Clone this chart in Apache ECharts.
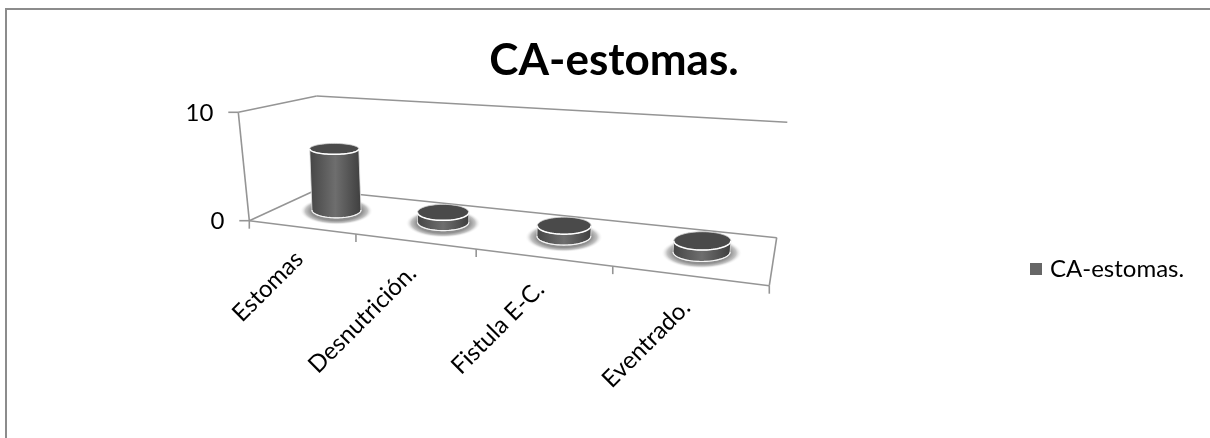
<!DOCTYPE html>
<html><head><meta charset="utf-8">
<style>html,body{margin:0;padding:0;background:#fff}#c{width:1210px;height:438px}</style>
<script src="https://cdn.jsdelivr.net/npm/echarts@6/dist/echarts.min.js"></script>
</head><body><div id="c"></div>
<script>
const seriesName = 'CA-estomas.';
const categories = ['Estomas', 'Desnutrición.', 'Fistula E-C.', 'Eventrado.'];
const values = [6, 1, 1, 1];
const yTickValues = [0, 10];
const yTickLabels = ['0', '10'];

// Perspective box the 2D axes are projected into
const FL=[249.3,220.7],FR=[769.3,285.7],BL=[316,190],BR=[776.7,237.7],
      TFL=[238.3,112.3],TFR=[777.5,153],TBL=[316.7,96],TBR=[787.3,122.3];
const K=0.774, FONT='Lato, "Open Sans", sans-serif', AX='#959595';
const warp=u=>K*u/(1-u+K*u);
const mix=(a,b,t)=>[a[0]+(b[0]-a[0])*t,a[1]+(b[1]-a[1])*t];
function P(u,v,w){
  const t=warp(u);
  const front=mix(mix(FL,FR,t),mix(TFL,TFR,t),w);
  const back=mix(mix(BL,BR,t),mix(TBL,TBR,t),w);
  return mix(front,back,v);
}
function norm(params,pt){
  const r=params.coordSys;
  return [(pt[0]-r.x)/r.width,(r.y+r.height-pt[1])/r.height];
}
const line=(a,b,w)=>({type:'line',shape:{x1:a[0],y1:a[1],x2:b[0],y2:b[1]},style:{stroke:AX,lineWidth:w||1.6}});
function arc(c,rx,ry,from,to){
  const p=[];for(let i=0;i<=40;i++){const a=from+(to-from)*i/40;p.push([c[0]+rx*Math.cos(a),c[1]+ry*Math.sin(a)]);}
  return p;
}

function renderFrame(params,api){
  const ch=[];
  ch.push(line(FL,FR),line(FR,BR),line(BR,BL),line(BL,FL));
  ch.push(line(TFL,FL),line(TFL,TBL),line(TBL,TBR));
  // x ticks at the category band edges
  const band=api.size([1,0])[0]/params.coordSys.width;
  for(let i=0;i<=categories.length;i++){
    const p=P(i*band,0,0);
    ch.push(line(p,[p[0],p[1]+8]));
  }
  // y ticks and labels
  yTickValues.forEach((val,i)=>{
    const w=norm(params,api.coord([0,val]))[1];
    const p=P(0,0,w);
    ch.push(line(p,[p[0]-10,p[1]]));
    ch.push({type:'text',x:p[0]-25,y:p[1]+1,style:{text:yTickLabels[i],fontFamily:FONT,fontSize:24,fill:'#000',align:'right',verticalAlign:'middle'}});
  });
  return {type:'group',children:ch};
}

function renderLabel(params,api){
  const i=api.value(0);
  const u=norm(params,api.coord([i,0]))[0];
  const p=P(u,0,0);
  return {type:'text',x:p[0]-2,y:p[1]+28,rotation:45*Math.PI/180,
    style:{text:categories[i],fontFamily:FONT,fontSize:24,fill:'#000',align:'right',verticalAlign:'middle'}};
}

function renderCyl(params,api){
  const i=api.value(0), val=api.value(1);
  const nb=norm(params,api.coord([i,0])), nt=norm(params,api.coord([i,val]));
  const u=nb[0], DX=5;
  const b=P(u,.5,0), t=P(u,.5,nt[1]);
  b[0]+=DX; t[0]+=DX; b[1]-=1;
  const cw=P(u+.125,0,0)[0]-P(u-.125,0,0)[0];
  const rx=16+0.08*cw;
  const ryOf=y=>5.5+(y-150)*0.04;
  const rt=ryOf(t[1]), rb=ryOf(b[1]);
  const bodyPts=[[t[0]-rx,t[1]]].concat(arc(b,rx,rb,Math.PI,0)).concat([[t[0]+rx,t[1]]]);
  const sr=rx+12, sy=(rb+6)/sr;
  return {type:'group',children:[
    {type:'circle',x:b[0],y:b[1]+1,scaleY:sy,shape:{cx:0,cy:0,r:sr},
      style:{fill:{type:'radial',x:.5,y:.5,r:.5,colorStops:[{offset:0,color:'#808080'},{offset:.7,color:'#909090'},{offset:.85,color:'#c4c4c4'},{offset:1,color:'rgba(255,255,255,0)'}]}}},
    {type:'polygon',shape:{points:bodyPts},
      style:{stroke:'#e4e4e4',lineWidth:.8,fill:{type:'linear',x:0,y:0,x2:1,y2:0,colorStops:[{offset:0,color:'#454545'},{offset:.5,color:'#6e6e6e'},{offset:1,color:'#3e3e3e'}]}}},
    {type:'polyline',shape:{points:arc(b,rx,rb,Math.PI,0)},style:{stroke:'#f4f4f4',lineWidth:1.2,fill:null}},
    {type:'ellipse',shape:{cx:t[0],cy:t[1],rx:rx,ry:rt},style:{fill:'#4a4a4a',stroke:'#cfcfcf',lineWidth:.8}},
    {type:'polyline',shape:{points:arc(t,rx,rt,Math.PI,0)},style:{stroke:'#fff',lineWidth:1.5,fill:null}}
  ]};
}

const chart=echarts.init(document.getElementById('c'),null,{renderer:'canvas'});
chart.setOption({
  animation:false,
  backgroundColor:'#fff',
  title:{text:seriesName,left:609,textAlign:'center',top:34,textStyle:{fontFamily:FONT,fontSize:44,fontWeight:'bold',color:'#000'}},
  legend:{show:true,left:1025,top:252,icon:'rect',itemWidth:12,itemHeight:12,itemGap:6,
    textStyle:{fontFamily:FONT,fontSize:24,color:'#000',padding:[0,0,0,3]},data:[seriesName]},
  grid:{left:249,top:112,width:520,height:108},
  xAxis:{type:'category',data:categories,show:false},
  yAxis:{type:'value',min:0,max:10,interval:10,show:false},
  graphic:[
    {type:'line',silent:true,shape:{x1:5,y1:9,x2:1210,y2:9},style:{stroke:'#8c8c8c',lineWidth:2}},
    {type:'line',silent:true,shape:{x1:6,y1:8,x2:6,y2:438},style:{stroke:'#8c8c8c',lineWidth:2}}
  ],
  series:[
    {type:'custom',name:'frame',silent:true,clip:false,z:1,renderItem:renderFrame,data:[[0,0]],encode:{x:0,y:1}},
    {type:'custom',name:'labels',silent:true,clip:false,z:2,renderItem:renderLabel,data:categories.map((c,i)=>[i,0]),encode:{x:0,y:1}},
    {type:'custom',name:seriesName,silent:true,clip:false,z:3,renderItem:renderCyl,itemStyle:{color:'#666'},
      data:values.map((v,i)=>[i,v]),encode:{x:0,y:1}}
  ]
});
</script></body></html>
